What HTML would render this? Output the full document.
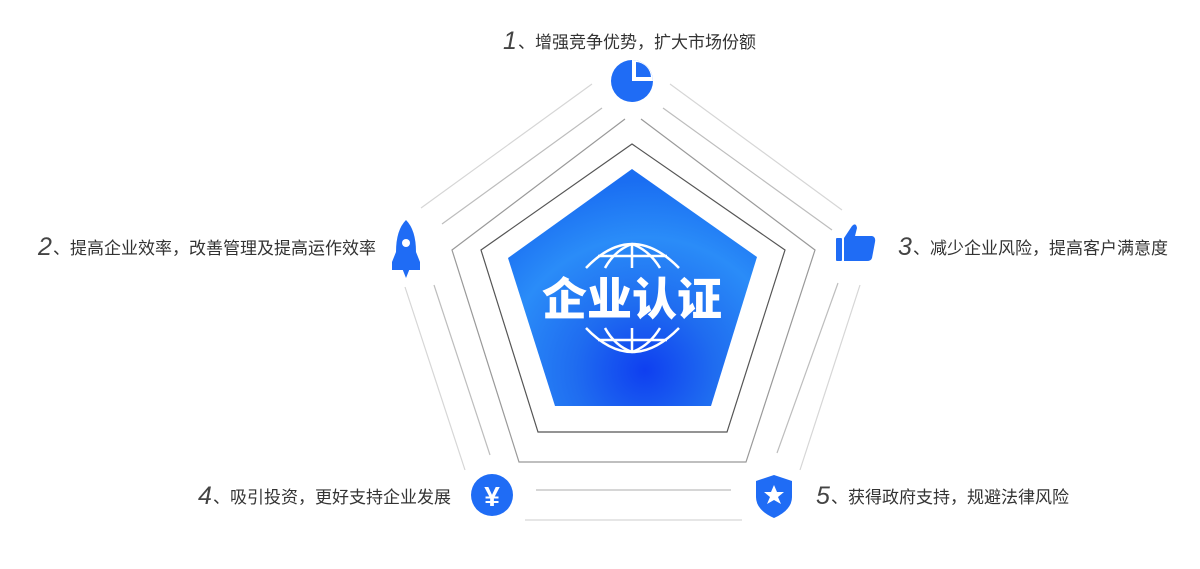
<!DOCTYPE html>
<html><head><meta charset="utf-8"><style>
html,body{margin:0;padding:0;background:#fff;}
svg{display:block;}
.t{font-family:"Liberation Sans","Noto Sans CJK SC",sans-serif;font-size:17px;fill:#333;}
.n{font-family:"Liberation Sans",sans-serif;font-size:25px;fill:#444;font-style:italic;}
</style></head><body>
<svg width="1200" height="569" viewBox="0 0 1200 569" xmlns="http://www.w3.org/2000/svg">
<defs>
<radialGradient id="g" cx="0.55" cy="0.85" r="0.8">
<stop offset="0" stop-color="#0f3ff0"/>
<stop offset="0.35" stop-color="#1f6cf0"/>
<stop offset="0.7" stop-color="#2a8cf8"/>
<stop offset="1" stop-color="#1a6ef2"/>
</radialGradient>
</defs>
<g stroke="#d6d6d6" stroke-width="1.2" fill="none">
<line x1="592" y1="84" x2="421" y2="208"/>
<line x1="670" y1="84" x2="842" y2="210"/>
<line x1="405" y1="287" x2="465" y2="470"/>
<line x1="860" y1="285" x2="800" y2="470"/>
<line x1="525" y1="520" x2="742" y2="520"/>
</g>
<g stroke="#bdbdbd" stroke-width="1.2" fill="none">
<line x1="602" y1="108" x2="442" y2="224"/>
<line x1="663" y1="108" x2="832" y2="230"/>
<line x1="434" y1="285" x2="490" y2="455"/>
<line x1="838" y1="283" x2="777" y2="453"/>
<line x1="536" y1="490" x2="731" y2="490"/>
</g>
<polyline points="625,119 452,250 519,462 746,462 815,250 641,119" stroke="#999" stroke-width="1.2" fill="none"/>
<polygon points="632,144 481,250 538,432 727,432 785,250" stroke="#555" stroke-width="1.2" fill="none"/>
<polygon points="632,169 508,258 555,406 711,406 757,257" fill="url(#g)"/>
<g stroke="#fff" stroke-width="2.5" fill="none">
<path d="M586,268 Q632,220 679,268"/>
<path d="M598,256 L667,256"/>
<path d="M632,244 L632,268 M605,268 Q615,250 632,244 Q649,250 660,268"/>
<path d="M586,328 Q632,376 679,328"/>
<path d="M598,340 L667,340"/>
<path d="M632,328 L632,352 M605,328 Q615,346 632,352 Q649,346 660,328"/>
</g>
<text x="632" y="315" text-anchor="middle" font-family="'Noto Sans CJK SC',sans-serif" font-weight="900" font-size="45" fill="#fff">企业认证</text>
<circle cx="632" cy="81" r="21" fill="#1f6cf5"/>
<path d="M632,81 L632,60 A21,21 0 0 1 653,81 Z" fill="#fff"/>
<path d="M636,77 L636,62 A16,16 0 0 1 651,77 Z" fill="#1f6cf5"/>
<path d="M406,220 Q416,230 416,252 L420,262 L420,270 L392,270 L392,262 L396,252 Q396,230 406,220 Z" fill="#1f6cf5"/>
<circle cx="406" cy="243" r="4" fill="#fff"/>
<path d="M402,268 L410,268 L406,278 Z" fill="#1f6cf5"/>
<rect x="836" y="238" width="6" height="23" fill="#1f6cf5" rx="1"/>
<path d="M844,238 L852,226 Q856,222 857,228 L855,236 L872,236 Q876,237 875,242 L872,258 Q871,261 867,261 L844,261 Z" fill="#1f6cf5"/>
<circle cx="492" cy="495" r="21" fill="#1f6cf5"/>
<text x="492" y="506" text-anchor="middle" font-family="'Liberation Sans',sans-serif" font-weight="bold" font-size="28" fill="#fff">¥</text>
<path d="M774,475 L792,481 L792,497 Q792,510 774,518 Q756,510 756,497 L756,481 Z" fill="#1f6cf5"/>
<path d="M774,485 L777,492 L784,492 L778,497 L781,504 L774,500 L767,504 L770,497 L764,492 L771,492 Z" fill="#fff"/>
<text x="503" y="49" class="n">1</text><text x="518" y="48" class="t">、增强竞争优势，扩大市场份额</text>
<text x="38" y="255" class="n">2</text><text x="53" y="254" class="t">、提高企业效率，改善管理及提高运作效率</text>
<text x="898" y="255" class="n">3</text><text x="913" y="254" class="t">、减少企业风险，提高客户满意度</text>
<text x="198" y="504" class="n">4</text><text x="213" y="503" class="t">、吸引投资，更好支持企业发展</text>
<text x="816" y="504" class="n">5</text><text x="831" y="503" class="t">、获得政府支持，规避法律风险</text>
</svg>
</body></html>
